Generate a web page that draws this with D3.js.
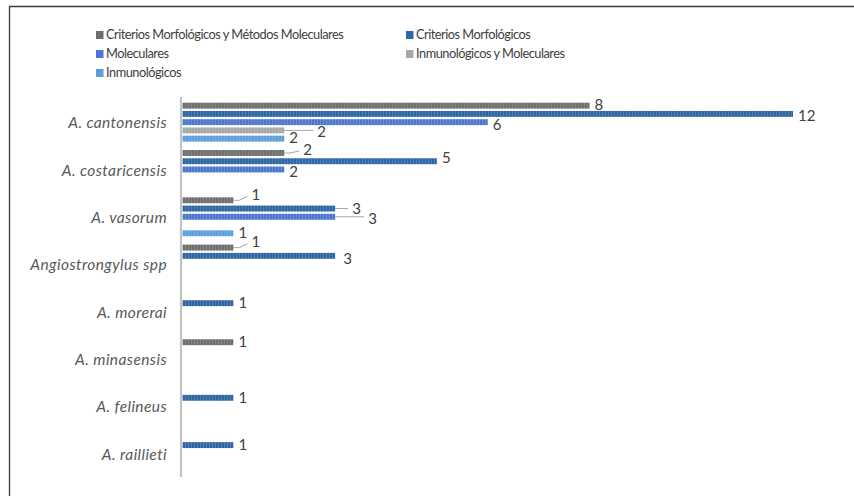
<!DOCTYPE html>
<html>
<head>
<meta charset="utf-8">
<script src="https://cdn.jsdelivr.net/npm/d3@7"></script>
<style>
  body { margin: 0; background: #fff; }
  svg { display: block; font-family: Lato, "Liberation Sans", sans-serif; }
</style>
</head>
<body>
<script>
// Data

const categories = ["A. cantonensis", "A. costaricensis", "A. vasorum", "Angiostrongylus spp",
  "A. morerai", "A. minasensis", "A. felineus", "A. raillieti"];

const seriesNames = ["Criterios Morfológicos y Métodos Moleculares", "Criterios Morfológicos",
  "Moleculares", "Inmunológicos y Moleculares", "Inmunológicos"];

// one value per category, null = no bar
const morfMol   = [8, 2, 1, 1, null, 1, null, null];
const morf      = [12, 5, 3, 3, 1, null, 1, 1];
const molec     = [6, 2, 3, null, null, null, null, null];
const inmunoMol = [2, null, null, null, null, null, null, null];
const inmuno    = [2, null, 1, null, null, null, null, null];

const seriesValues = [morfMol, morf, molec, inmunoMol, inmuno];

// Dimensions / styles

const width = 854, height = 496;
const colors = ["#6f6f6f", "#2f67a4", "#4a78cf", "#a8a8a8", "#5c9fdc"];

// label nudges for labels that Excel moved off their bars (series index|category index)
const nudge = {
  "1|0": [0, 2, false], "2|0": [0, 3, false],
  "3|0": [28, 2, true],
  "0|1": [14, -3, true], "1|1": [0, -3, false], "2|1": [0, 3, false],
  "0|2": [13, -5, true], "1|2": [12, 1, true], "2|2": [28, 2, true],
  "0|3": [13, -5, true], "1|3": [3, 3, false]
};

const svg = d3.select("body").append("svg")
  .attr("width", width).attr("height", height);

// frame (only top and left edges in view)
svg.append("path")
  .attr("d", "M9.5,496 V6.5 H854")
  .attr("fill", "none").attr("stroke", "#3a3a3a").attr("stroke-width", 1.3);

// bar texture patterns
const defs = svg.append("defs");
colors.forEach((c, i) => {
  const p = defs.append("pattern")
    .attr("id", "pat" + i).attr("patternUnits", "userSpaceOnUse")
    .attr("width", 3).attr("height", 6);
  p.append("rect").attr("width", 3).attr("height", 6).attr("fill", c);
  p.append("rect").attr("x", 2).attr("width", 1).attr("height", 6)
    .attr("fill", "#fff").attr("opacity", 0.16);
});

// Scales

const y = d3.scaleBand().domain(categories).range([98.5, 477]);
const ySub = d3.scaleBand().domain(d3.range(seriesNames.length))
  .range([4.2, y.bandwidth() - 4.2]).paddingInner(0.28);
const x = d3.scaleLinear().domain([0, 12]).range([182.5, 793]);

// Bars

const barData = [];
seriesValues.forEach((vals, s) => {
  vals.forEach((v, c) => { if (v != null) barData.push({ s, c, v }); });
});

svg.append("g").selectAll("rect").data(barData).join("rect")
  .attr("x", x(0))
  .attr("y", d => y(categories[d.c]) + ySub(d.s))
  .attr("width", d => x(d.v) - x(0))
  .attr("height", ySub.bandwidth())
  .attr("fill", d => `url(#pat${d.s})`);

// Value labels (with leader lines where moved)

const lab = svg.append("g").attr("font-size", 15).attr("fill", "#404040");
barData.forEach(d => {
  const cy = y(categories[d.c]) + ySub(d.s) + ySub.bandwidth() / 2;
  const n = nudge[d.s + "|" + d.c] || [0, 0, false];
  const lx = x(d.v) + 5 + n[0], ly = cy + 1 + n[1];
  if (n[2]) {
    const ex = lx - 4;
    const path = Math.abs(n[1]) < 3
      ? `M${x(d.v)},${cy} H${ex}`
      : `M${x(d.v)},${cy} L${x(d.v) + 6},${cy} L${ex},${ly}`;
    svg.append("path").attr("d", path)
      .attr("fill", "none").attr("stroke", "#a6a6a6").attr("stroke-width", 1);
  }
  lab.append("text").attr("x", lx).attr("y", ly)
    .attr("dominant-baseline", "middle").text(d.v);
});

// Axis

const yAxis = svg.append("g").attr("transform", `translate(${x(0) - 1.5},0)`)
  .call(d3.axisLeft(y).tickSize(0).tickPadding(14));
yAxis.select(".domain").attr("stroke", "#c4c4c4").attr("stroke-width", 2.2)
  .attr("d", "M0,97V477");
yAxis.selectAll("text")
  .attr("font-size", 15.5).attr("font-style", "italic").attr("fill", "#595959")
  .attr("letter-spacing", 0.4)
  .attr("font-family", "Lato, sans-serif").attr("dy", "0.4em");

// Legend

const legendPos = [[96, 35], [406, 35], [96, 54], [406, 54], [96, 73]];
const legend = svg.append("g").selectAll("g").data(seriesNames).join("g")
  .attr("transform", (d, i) => `translate(${legendPos[i][0]},${legendPos[i][1]})`);
legend.append("rect").attr("x", 0).attr("y", -4).attr("width", 7.5).attr("height", 8)
  .attr("fill", (d, i) => colors[i]);
legend.append("text").attr("x", 10).attr("y", 0.5)
  .attr("dominant-baseline", "middle")
  .attr("font-size", 12.8).attr("fill", "#404040").attr("letter-spacing", -0.5)
  .text(d => d);
</script>
</body>
</html>
